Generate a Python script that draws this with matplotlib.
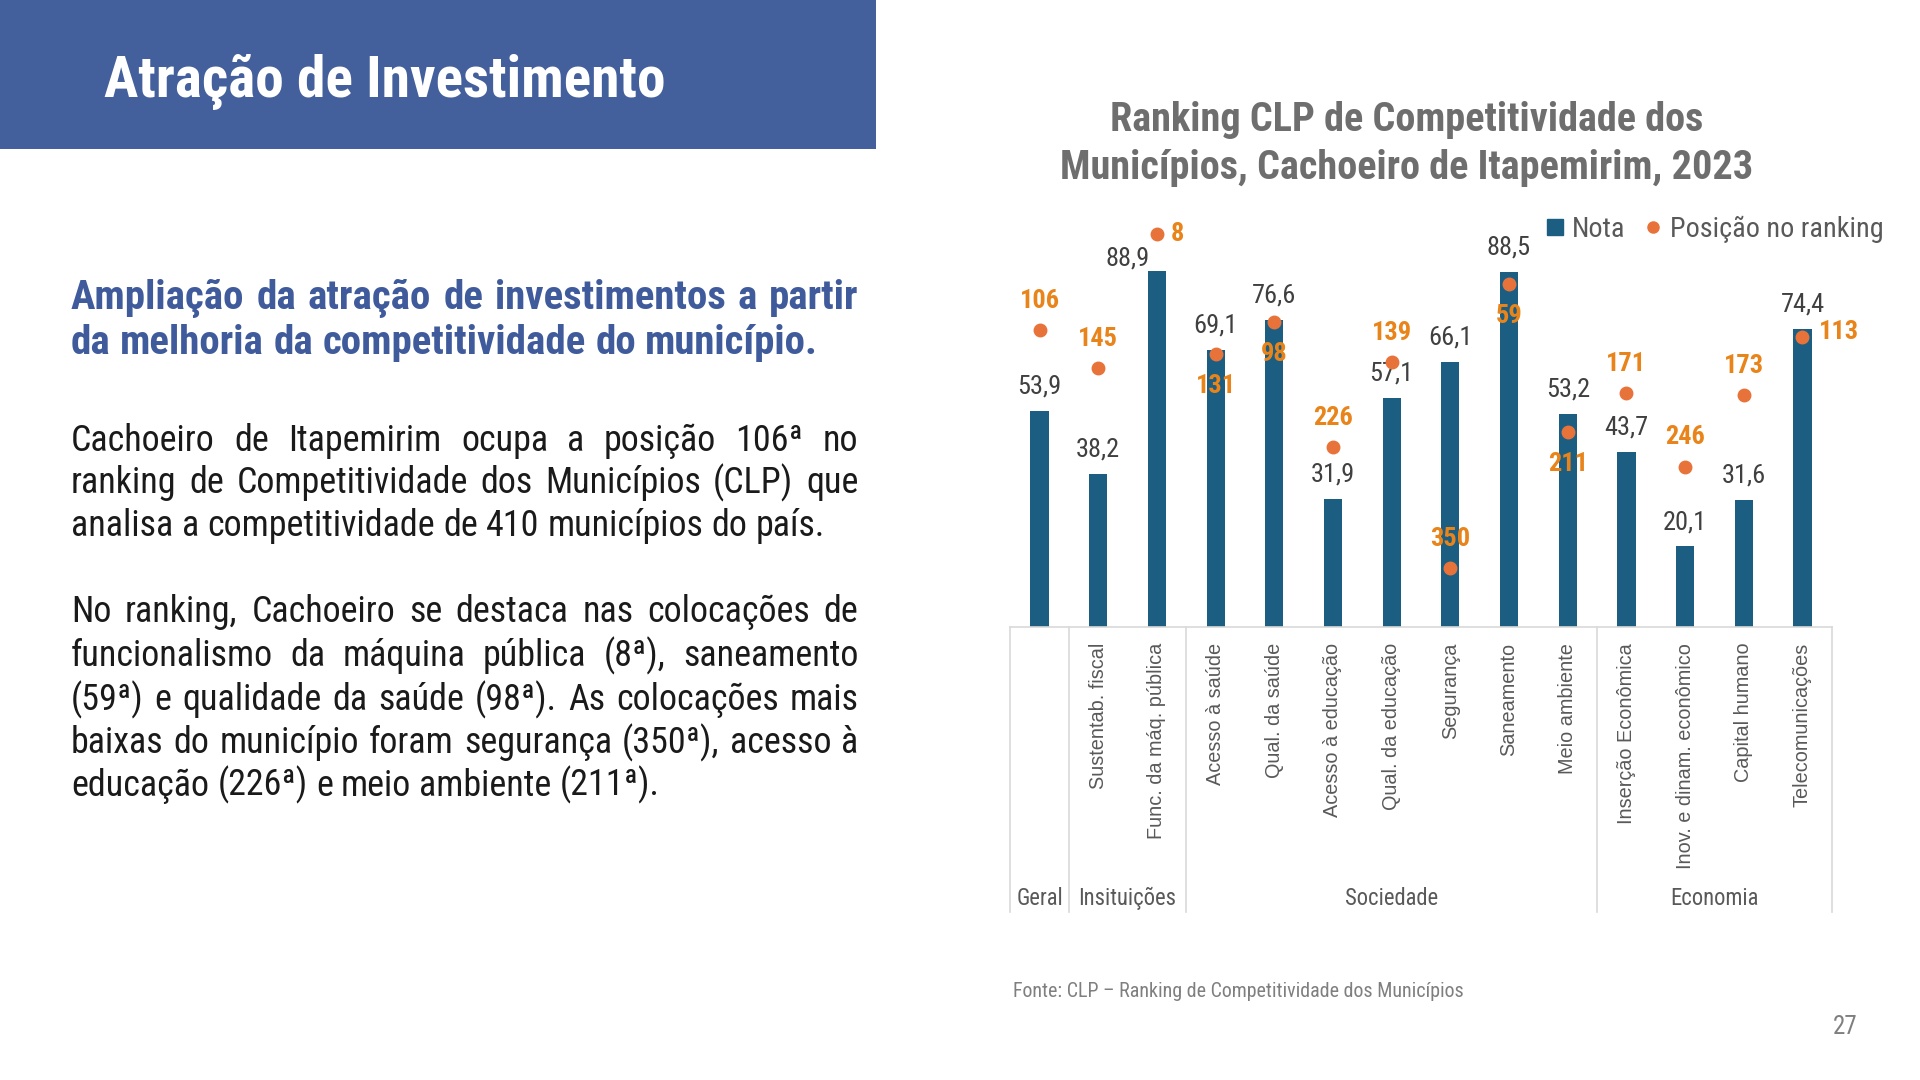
import matplotlib
matplotlib.use('Agg')
import matplotlib.pyplot as plt
from matplotlib import font_manager
from matplotlib.lines import Line2D
import matplotlib.transforms as mtransforms

# dados do grafico
categorias = ['', 'Sustentab. fiscal', 'Func. da máq. pública', 'Acesso à saúde', 'Qual. da saúde',
              'Acesso à educação', 'Qual. da educação', 'Segurança', 'Saneamento', 'Meio ambiente',
              'Inserção Econômica', 'Inov. e dinam. econômico', 'Capital humano', 'Telecomunicações']
nota = [53.9, 38.2, 88.9, 69.1, 76.6, 31.9, 57.1, 66.1, 88.5, 53.2, 43.7, 20.1, 31.6, 74.4]
posicao = [106, 145, 8, 131, 98, 226, 139, 350, 59, 211, 171, 246, 173, 113]
grupos = ['Geral', 'Insituições', 'Sociedade', 'Economia']
grupo_n = [1, 2, 7, 4]
n_municipios = 410

titulo = 'Atração de Investimento'
subtitulo = ['Ampliação da atração de investimentos a partir',
             'da melhoria da competitividade do município.']
par1 = ['Cachoeiro de Itapemirim ocupa a posição 106ª no',
        'ranking de Competitividade dos Municípios (CLP) que',
        'analisa a competitividade de 410 municípios do país.']
par2 = ['No ranking, Cachoeiro se destaca nas colocações de',
        'funcionalismo da máquina pública (8ª), saneamento',
        '(59ª) e qualidade da saúde (98ª). As colocações mais',
        'baixas do município foram segurança (350ª), acesso à',
        'educação (226ª) e meio ambiente (211ª).']
titulo_graf = ['Ranking CLP de Competitividade dos', 'Municípios, Cachoeiro de Itapemirim, 2023']
fonte = 'Fonte: CLP – Ranking de Competitividade dos Municípios'

# deslocamento dos rotulos (pontos)
off_pos = [(0, 21), (0, 21), (15, 0), (0, -23), (0, -23), (0, 21), (0, 21), (0, 21),
           (0, -23), (0, -23), (0, 21), (0, 21), (0, 21), (26, 3)]
off_nota = [(0, 17.5)] * 14
off_nota[2] = (-21, 9)

AZUL_BAR = '#1b5e82'
LARANJA = '#e8733a'
LARANJA_TXT = '#e8841a'
AZUL_TOPO = '#44609c'

nomes = {f.name for f in font_manager.fontManager.ttflist}
NARROW = 'DejaVu Sans'
for c in ['Liberation Sans Narrow', 'Roboto Condensed', 'Open Sans Condensed']:
    if c in nomes:
        NARROW = c
        break
ARIAL = 'Liberation Sans' if 'Liberation Sans' in nomes else 'DejaVu Sans'

W, H = 1568.0, 882.0
S = 1920.0 / W
def X(x): return x / W
def Y(y): return 1 - y / H

fig = plt.figure(figsize=(19.2, 10.8), dpi=100)
fig.patch.set_facecolor('white')
r = fig.canvas.get_renderer()

def txt(x, y, s, **kw):
    kw.setdefault('family', NARROW)
    kw.setdefault('fontstretch', 'condensed')
    return fig.text(x, y, s, **kw)

def caber(t, largura):
    # ajusta o tamanho da fonte para a largura (px da referencia)
    w = t.get_window_extent(r).width
    t.set_fontsize(t.get_fontsize() * largura * S / w)
    return t

def tamanho(s, largura, weight='normal'):
    t = txt(0, 0, s, fontsize=20, fontweight=weight)
    caber(t, largura)
    f = t.get_fontsize()
    t.remove()
    return f

# faixa do titulo
fig.add_artist(plt.Rectangle((0, Y(122)), X(715), 122 / H, transform=fig.transFigure,
                             facecolor=AZUL_TOPO, edgecolor='none'))
caber(txt(X(85), Y(79), titulo, color='white', fontsize=40, fontweight='bold', va='baseline'), 458)

def bloco(linhas, x0, x1, ys, size, color, weight='normal'):
    a = txt(0, 0, 'n n', fontsize=size, fontweight=weight)
    b = txt(0, 0, 'nn', fontsize=size, fontweight=weight)
    esp = (a.get_window_extent(r).width - b.get_window_extent(r).width) / fig.bbox.width
    a.remove(); b.remove()
    for k, (linha, y) in enumerate(zip(linhas, ys)):
        words = linha.split(' ')
        ts = [txt(0, Y(y), w, fontsize=size, color=color, fontweight=weight, va='baseline')
              for w in words]
        ws = [t.get_window_extent(r).width / fig.bbox.width for t in ts]
        gap = esp
        if k < len(linhas) - 1 and len(words) > 1:
            gap = max(esp * 0.6, (X(x1) - X(x0) - sum(ws)) / (len(words) - 1))
        x = X(x0)
        for t, w in zip(ts, ws):
            t.set_x(x)
            x += w + gap

bloco(subtitulo, 58, 701, [252, 289], tamanho(subtitulo[-1], 608, 'bold'), '#3f5b9b', 'bold')
f_par = tamanho(par1[-1], 614)
bloco(par1, 58, 701, [368, 403, 438], f_par, '#1a1a1a')
bloco(par2, 58, 701, [508, 544, 580, 615, 650], f_par, '#1a1a1a')

# titulo do grafico
f_tit = tamanho(titulo_graf[0], 483, 'bold')
txt(X(1149), Y(107), titulo_graf[0], ha='center', va='baseline', fontsize=f_tit,
    fontweight='bold', color='#6e6e6e')
txt(X(1149), Y(146), titulo_graf[1], ha='center', va='baseline', fontsize=f_tit,
    fontweight='bold', color='#6e6e6e')

ax = fig.add_axes([X(825), Y(512), X(1496) - X(825), Y(184.7) - Y(512)])
x = list(range(len(nota)))
ax.bar(x, nota, width=0.31, color=AZUL_BAR, zorder=2)
ax.set_xlim(-0.5, len(nota) - 0.5)
ax.set_ylim(0, 100)
ax.axis('off')

for i, v in enumerate(nota):
    ax.annotate(f'{v:.1f}'.replace('.', ','), (i, v), xytext=off_nota[i], textcoords='offset points',
                ha='center', va='center', fontsize=19, color='#404040', family=NARROW,
                fontstretch='condensed', annotation_clip=False)

ax2 = ax.twinx()
ax2.set_ylim(n_municipios, 0)
ax2.axis('off')
ax2.plot(x, posicao, 'o', ms=9, color=LARANJA, zorder=3, clip_on=False)
for i, p in enumerate(posicao):
    ax2.annotate(str(p), (i, p), xytext=off_pos[i], textcoords='offset points',
                 ha='center', va='center', fontsize=19, fontweight='bold', color=LARANJA_TXT,
                 family=NARROW, fontstretch='condensed', annotation_clip=False, zorder=4)

# eixo de categorias
tr = mtransforms.blended_transform_factory(ax.transData, ax.transAxes)
ax.plot([-0.5, len(nota) - 0.5], [0, 0], color='#d9d9d9', lw=1.2, transform=tr, clip_on=False)
fundo = -(745 - 512) / (512 - 184.7)
sep = [-0.5]
for n in grupo_n:
    sep.append(sep[-1] + n)
for s in sep:
    ax.plot([s, s], [0, fundo], color='#d9d9d9', lw=1.2, transform=tr, clip_on=False)
for i, c in enumerate(categorias):
    ax.text(i, -13 / 327.3, c, rotation=90, ha='center', va='top', fontsize=14.3,
            color='#595959', family=ARIAL, transform=tr)
for g, a, b in zip(grupos, sep[:-1], sep[1:]):
    ax.text((a + b) / 2, -(734 - 512) / 327.3, g, ha='center', va='center', fontsize=16.3,
            color='#595959', family=NARROW, fontstretch='condensed', transform=tr)

# legenda
hs = [Line2D([], [], marker='s', ls='none', color=AZUL_BAR, ms=11),
      Line2D([], [], marker='o', ls='none', color=LARANJA, ms=8)]
fig.legend(hs, ['Nota', 'Posição no ranking'], loc='center right',
           bbox_to_anchor=(X(1559), Y(187)), ncol=2, frameon=False, handletextpad=0.15,
           columnspacing=0.55, handlelength=0.9,
           prop={'family': NARROW, 'stretch': 'condensed', 'size': tamanho('Posição no ranking', 173)},
           labelcolor='#595959')

caber(txt(X(827), Y(810), fonte, va='center', fontsize=14, color='#7f7f7f'), 369)
txt(X(1517), Y(839), '27', ha='right', va='center', fontsize=18, color='#7f7f7f')

fig.savefig('out.png', dpi=100)
